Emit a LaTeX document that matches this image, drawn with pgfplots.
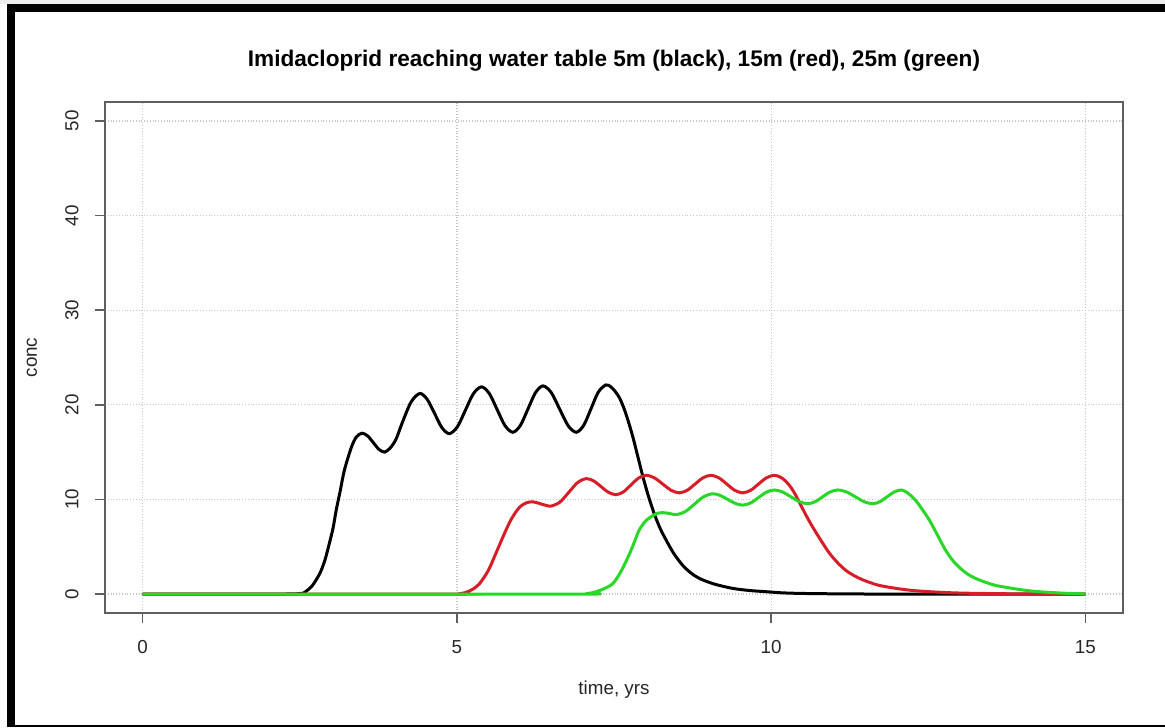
\documentclass[border=0pt]{standalone}
\usepackage{pgfplots}
\pgfplotsset{compat=1.18}
\usepackage{fontspec}
\setmainfont{Liberation Sans}

\definecolor{rred}{RGB}{215,30,40}
\definecolor{rgreen}{RGB}{40,215,40}
\definecolor{framegray}{RGB}{95,95,95}

% Concentration at the water table, depth 5 m
\pgfplotstableread{
t c
0 0
2.0 0
2.5 0.05
2.6 0.3
2.7 0.9
2.82 2.2
2.9 3.6
2.97 5.35
3.03 7.0
3.08 8.9
3.14 10.8
3.21 13.1
3.32 15.5
3.40 16.6
3.49 17.0
3.58 16.71
3.67 16.0
3.76 15.29
3.85 15.0
3.94 15.45
4.03 16.35
4.13 18.1
4.27 20.29
4.41 21.2
4.53 20.55
4.645 19.08
4.76 17.6
4.88 16.95
5.01 17.7
5.135 19.43
5.26 21.15
5.39 21.9
5.515 21.2
5.64 19.5
5.765 17.8
5.89 17.1
6.01 17.82
6.13 19.55
6.25 21.28
6.37 22.0
6.50 21.31
6.635 19.55
6.77 17.79
6.90 17.1
7.02 17.86
7.135 19.6
7.25 21.34
7.37 22.1
7.45 21.9
7.52 21.4
7.59 20.7
7.66 19.6
7.73 18.2
7.80 16.6
7.88 14.5
7.96 12.4
8.05 10.3
8.14 8.5
8.23 7.0
8.33 5.7
8.45 4.3
8.59 3.06
8.72 2.25
8.86 1.65
9.1 1.05
9.39 0.6
9.65 0.38
9.92 0.25
10.15 0.14
10.4 0.08
10.8 0.04
11.3 0.015
12 0
15 0
}\blacktab

% depth 15 m
\pgfplotstableread{
t c
0 0
4.8 0
5.05 0.05
5.15 0.2
5.25 0.5
5.36 1.1
5.5 2.5
5.62 4.3
5.73 6.0
5.84 7.6
5.92 8.5
6.0 9.2
6.09 9.6
6.18 9.75
6.26 9.68
6.34 9.52
6.42 9.37
6.50 9.3
6.64 9.72
6.78 10.75
6.92 11.78
7.06 12.2
7.18 11.94
7.295 11.35
7.41 10.76
7.53 10.5
7.65 10.8
7.77 11.53
7.89 12.25
8.01 12.55
8.14 12.29
8.275 11.63
8.41 10.96
8.54 10.7
8.665 10.97
8.79 11.63
8.915 12.28
9.04 12.55
9.17 12.28
9.295 11.63
9.42 10.97
9.55 10.7
9.675 10.97
9.80 11.63
9.925 12.28
10.05 12.55
10.15 12.35
10.22 12.0
10.29 11.5
10.37 10.7
10.45 9.7
10.55 8.4
10.66 7.1
10.80 5.6
10.93 4.3
11.06 3.3
11.19 2.5
11.32 1.95
11.46 1.5
11.70 0.95
11.99 0.6
12.25 0.38
12.52 0.25
12.9 0.13
13.3 0.07
14 0.02
15 0
}\redtab

% depth 25 m
\pgfplotstableread{
t c
0 0
6.8 0
7.05 0.05
7.16 0.15
7.3 0.45
7.48 1.1
7.62 2.5
7.75 4.3
7.83 5.6
7.90 6.75
8.0 7.7
8.12 8.3
8.20 8.55
8.28 8.6
8.38 8.52
8.49 8.4
8.635 8.72
8.78 9.5
8.925 10.28
9.07 10.6
9.19 10.42
9.31 10.0
9.43 9.58
9.55 9.4
9.675 9.63
9.80 10.2
9.925 10.77
10.05 11.0
10.18 10.79
10.315 10.28
10.45 9.76
10.58 9.55
10.70 9.76
10.82 10.28
10.94 10.79
11.06 11.0
11.20 10.79
11.34 10.28
11.48 9.76
11.62 9.55
11.73 9.76
11.845 10.28
11.96 10.79
12.07 11.0
12.17 10.7
12.30 9.9
12.41 8.9
12.52 7.8
12.65 6.2
12.78 4.6
12.91 3.4
13.05 2.5
13.18 1.9
13.31 1.5
13.55 0.95
13.84 0.6
14.10 0.35
14.37 0.2
14.70 0.08
15 0.02
}\greentab

\begin{document}
\begin{tikzpicture}
% page and frame
\path[use as bounding box] (0,0) rectangle (582.5pt,363.5pt);
\fill[white] (0,0) rectangle (582.5pt,363.5pt);
\fill[black!7] (0,361.5pt) rectangle (582.5pt,363.5pt);
\fill[black] (3.5pt,0) rectangle (7.5pt,361.5pt);
\fill[black] (3.5pt,357.5pt) rectangle (582.5pt,361.5pt);
\fill[black] (3.5pt,0) rectangle (582.5pt,1pt);

\begin{axis}[
  at={(52.5pt,57pt)}, anchor=south west,
  scale only axis, width=509pt, height=255.5pt,
  xmin=-0.6, xmax=15.6, ymin=-2, ymax=52,
  xtick={0,5,10,15}, ytick={0,10,20,30,40,50},
  xtick pos=bottom, ytick pos=left,
  tick align=outside, major tick length=5pt,
  axis line style={framegray, line width=0.7pt},
  tick style={framegray, line width=0.7pt},
  grid=major,
  major grid style={black!22, densely dotted, line width=0.6pt},
  tick label style={font=\fontsize{9.4}{11}\selectfont, text=black!85},
  xticklabel style={anchor=center, yshift=-12pt},
  yticklabel style={rotate=90, anchor=center, yshift=11.5pt},
  /pgf/number format/assume math mode=true,
  clip=true,
]
\addplot[black, line width=1.5pt, smooth, tension=0.5] table[x=t, y=c] {\blacktab};
\addplot[rred, line width=1.5pt, smooth, tension=0.5] table[x=t, y=c] {\redtab};
\addplot[rgreen, line width=1.5pt, smooth, tension=0.5] table[x=t, y=c] {\greentab};
\end{axis}

\node[font=\bfseries\fontsize{11.3}{13}\selectfont] at (307pt,333pt)
  {Imidacloprid reaching water table 5m (black), 15m (red), 25m (green)};
\node[font=\fontsize{9.4}{11}\selectfont, text=black!85] at (307pt,18.5pt) {time, yrs};
\node[font=\fontsize{9.4}{11}\selectfont, text=black!85, rotate=90] at (16pt,184.75pt) {conc};
\end{tikzpicture}
\end{document}
